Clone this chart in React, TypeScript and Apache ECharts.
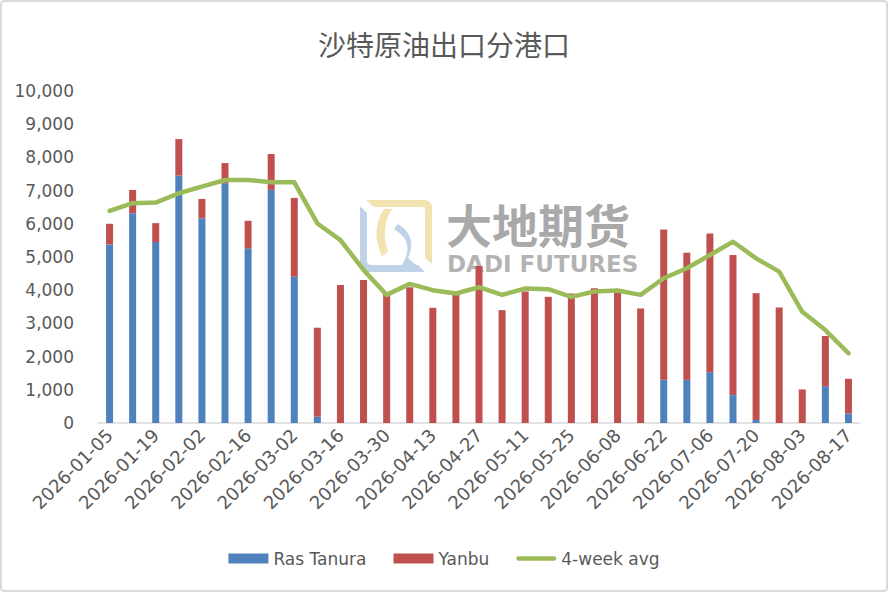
import React, { useEffect, useRef } from "react";
import * as echarts from "echarts";

const categories = [
  "2026-01-05", "2026-01-12", "2026-01-19", "2026-01-26", "2026-02-02", "2026-02-09",
  "2026-02-16", "2026-02-23", "2026-03-02", "2026-03-09", "2026-03-16", "2026-03-23",
  "2026-03-30", "2026-04-06", "2026-04-13", "2026-04-20", "2026-04-27", "2026-05-04",
  "2026-05-11", "2026-05-18", "2026-05-25", "2026-06-01", "2026-06-08", "2026-06-15",
  "2026-06-22", "2026-06-29", "2026-07-06", "2026-07-13", "2026-07-20", "2026-07-27",
  "2026-08-03", "2026-08-10", "2026-08-17",
];

const rasTanura = [
  5380, 6320, 5450, 7450, 6170, 7220, 5260, 7020, 4410, 190, 0, 0,
  0, 0, 0, 0, 0, 0, 0, 0, 0, 0, 0, 0,
  1300, 1300, 1530, 840, 90, 0, 0, 1110, 290,
];

const yanbu = [
  620, 700, 570, 1100, 580, 610, 830, 1080, 2370, 2680, 4160, 4310,
  3900, 4090, 3470, 3860, 4730, 3400, 3960, 3800, 3900, 4060, 3930, 3450,
  4530, 3830, 4180, 4220, 3820, 3480, 1010, 1510, 1040,
];

const avg4w = [
  6390, 6620, 6640, 6920, 7120, 7320, 7320, 7250, 7250, 6010, 5510, 4610,
  3860, 4190, 4000, 3900, 4090, 3860, 4050, 4030, 3800, 3960, 3990, 3860,
  4360, 4660, 5060, 5460, 4960, 4560, 3350, 2800, 2100,
];

const TEXT = "#595959";
const FONT = "'DejaVu Sans', 'Noto Sans', sans-serif";

echarts.graphic.registerShape(
  "logoYellowOuter",
  echarts.graphic.extendPath("M8 2 L66 2 Q74 2 74 10 L74 66 L67 60 L67 12 Q67 9 64 9 L16 9 Z", {})
);
echarts.graphic.registerShape(
  "logoBlueOuter",
  echarts.graphic.extendPath("M2 8 L9 15 L9 63 Q9 67 13 67 L60 67 L67 74 L10 74 Q2 74 2 66 Z", {})
);
echarts.graphic.registerShape(
  "logoYellowInner",
  echarts.graphic.extendPath("M26 11 L34 11 Q22 30 30 54 L24 58 Q12 32 26 11 Z", {})
);
echarts.graphic.registerShape(
  "logoBlueInner",
  echarts.graphic.extendPath("M40 26 Q60 38 50 60 L58 67 L44 67 Q58 44 36 31 Z", {})
);

export default function App() {
  const ref = useRef<HTMLDivElement>(null);
  useEffect(() => {
    if (!ref.current) return;
    const chart = echarts.init(ref.current, undefined, { renderer: "svg" });
    chart.setOption({
      animation: false,
      backgroundColor: "#ffffff",
      title: {
        text: "沙特原油出口分港口",
        left: "center",
        top: 25,
        textStyle: { color: TEXT, fontSize: 28, fontWeight: "normal", fontFamily: "'Noto Sans CJK SC', sans-serif" },
      },
      grid: { left: 98, right: 28, top: 91, bottom: 169, containLabel: false },
      legend: {
        bottom: 20,
        left: "center",
        itemWidth: 40,
        itemHeight: 10,
        itemGap: 27,
        textStyle: { color: TEXT, fontSize: 17, fontFamily: FONT },
        data: [
          { name: "Ras Tanura", icon: "rect" },
          { name: "Yanbu", icon: "rect" },
          {
            name: "4-week avg",
            icon: "path://M2.5,0 L42.5,0 A2.5,2.5 0 0 1 42.5,5 L2.5,5 A2.5,2.5 0 0 1 2.5,0 Z",
          },
        ],
      },
      xAxis: {
        type: "category",
        data: categories,
        axisTick: { show: false },
        axisLine: { lineStyle: { color: "#d9d9d9", width: 1.5 } },
        axisLabel: {
          interval: 1,
          rotate: 45,
          color: TEXT,
          fontSize: 18,
          fontFamily: FONT,
          margin: 9,
        },
      },
      yAxis: {
        type: "value",
        min: 0,
        max: 10000,
        interval: 1000,
        splitLine: { show: false },
        axisLine: { show: false },
        axisTick: { show: false },
        axisLabel: {
          color: TEXT,
          fontSize: 17,
          fontFamily: FONT,
          margin: 24,
          formatter: (v: number) => v.toLocaleString("en-US"),
        },
      },
      series: [
        {
          name: "Ras Tanura",
          type: "bar",
          stack: "ports",
          data: rasTanura,
          barWidth: 7,
          itemStyle: { color: "#4F81BD" },
        },
        {
          name: "Yanbu",
          type: "bar",
          stack: "ports",
          data: yanbu,
          barWidth: 7,
          itemStyle: { color: "#C0504D" },
        },
        {
          name: "4-week avg",
          type: "line",
          data: avg4w,
          symbol: "none",
          symbolKeepAspect: true,
          z: 5,
          lineStyle: { color: "#9BBB59", width: 4.5, cap: "round", join: "round" },
          itemStyle: { color: "#9BBB59" },
        },
      ],
      graphic: [
        {
          type: "rect",
          shape: { x: 1, y: 1, width: 886, height: 590, r: 3 },
          style: { fill: "none", stroke: "#d0d0d0", lineWidth: 1.5 },
          silent: true,
          z: 0,
        },
        {
          type: "group",
          x: 358,
          y: 198,
          z: 100,
          silent: true,
          children: [
            { type: "logoYellowOuter", style: { fill: "#efdfa6", opacity: 0.9 } },
            { type: "logoYellowInner", style: { fill: "#efdfa6", opacity: 0.9 } },
            { type: "logoBlueOuter", style: { fill: "#b9cde6", opacity: 0.9 } },
            { type: "logoBlueInner", style: { fill: "#b9cde6", opacity: 0.9 } },
            {
              type: "text",
              x: 88,
              y: 2,
              style: {
                text: "大地期货",
                fill: "#9a9a9a",
                opacity: 0.85,
                font: "bold 46px 'Noto Sans CJK SC', sans-serif",
                lineHeight: 46,
              },
            },
            {
              type: "text",
              x: 89,
              y: 54,
              style: {
                text: "DADI FUTURES",
                fill: "#a6a6a6",
                opacity: 0.85,
                font: "bold 23px 'DejaVu Sans', sans-serif",
                lineHeight: 23,
              },
            },
          ],
        },
      ],
    });
    return () => chart.dispose();
  }, []);
  return (
    <div
      ref={ref}
      style={{ position: "fixed", left: 0, top: 0, width: 888, height: 592 }}
    />
  );
}
